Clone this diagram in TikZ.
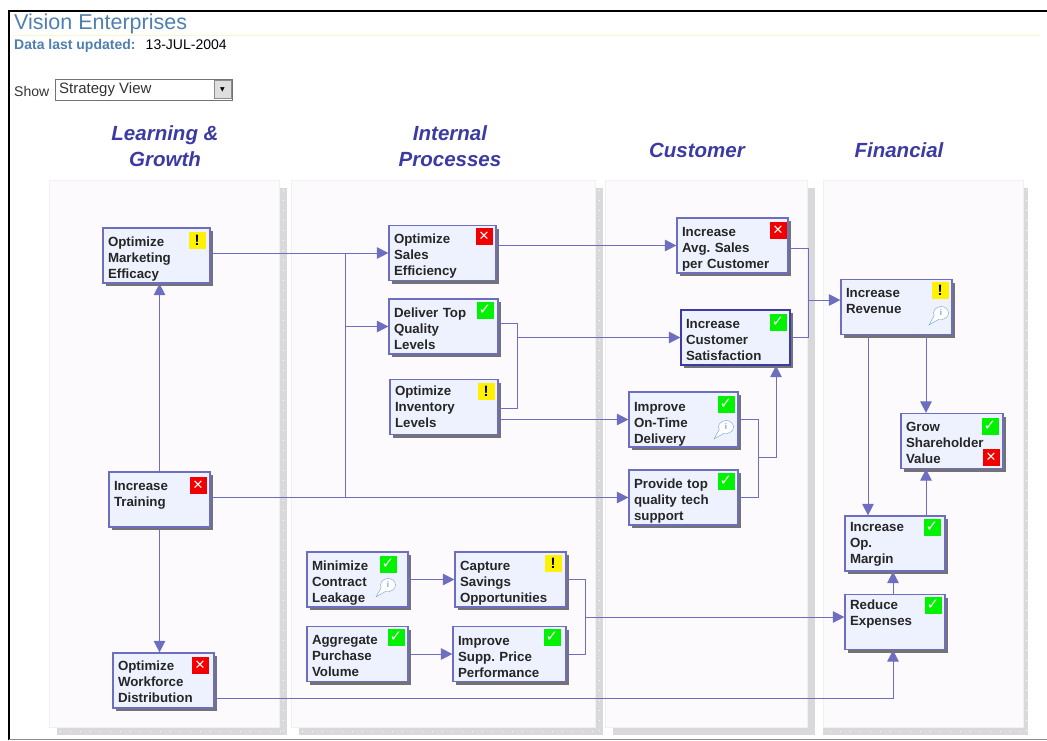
\documentclass[tikz,border=0pt]{standalone}
\usepackage{fontspec}
\setmainfont{Liberation Sans}
\newfontfamily\symfont{DejaVu Sans}
\usetikzlibrary{arrows.meta,shadows,shapes.callouts}
\definecolor{linkblue}{HTML}{6E6EC0}
\definecolor{boxfill}{HTML}{EDF2FE}
\definecolor{panelfill}{HTML}{FDFAFE}
\definecolor{stripgray}{HTML}{D9D9DB}
\definecolor{headblue}{HTML}{3B3BA3}
\definecolor{titleblue}{HTML}{4F7FAE}
\definecolor{iconblue}{HTML}{6F9FD8}
\tikzset{
  heading/.style={text=headblue, font=\fontsize{20.5}{25.5}\selectfont\bfseries\itshape, align=center},
  panel/.style={draw=black!6, fill=panelfill, anchor=north west, inner sep=0pt},
  kpibox/.style={draw=linkblue, line width=1.2pt, fill=boxfill, align=left, inner xsep=5pt, inner ysep=0pt, minimum height=55pt,
    font=\fontsize{13.3}{16}\selectfont\bfseries, text=black!85,
    general shadow={fill=black!55, shadow xshift=3pt, shadow yshift=-3pt}},
  kpidrop/.style={text height=#1pt},
  kpitop/.style={text depth=#1pt},
  stgood/.style={fill=green!95!black, text=white, minimum size=17pt, inner sep=0pt, font=\symfont\fontsize{15}{15}\selectfont},
  stbad/.style={fill=red!95!black, text=white, minimum size=17pt, inner sep=0pt, font=\symfont\fontsize{13}{13}\selectfont\bfseries},
  stwarn/.style={fill=yellow, text=black, minimum size=17pt, inner sep=0pt, font=\fontsize{15}{15}\selectfont\bfseries},
  infoicon/.style={ellipse callout, draw=iconblue, fill=white, text=iconblue, inner sep=0pt, minimum width=15pt, minimum height=13pt,
    callout relative pointer={(-7pt,-7pt)}, callout pointer arc=50, font=\fontsize{8}{8}\selectfont\bfseries},
  link/.style={draw=linkblue, line width=1pt},
  linkto/.style={link, -{Triangle[length=11.5pt,width=11.5pt]}}
}
\begin{document}
\begin{tikzpicture}[x=1pt,y=-1pt]
  \useasboundingbox (0,0) rectangle (1047,740);

  % page frame
  \draw[line width=2.5pt, black] (9,740) -- (9,11) -- (1047,11);
  \draw[line width=1pt, black!45] (9,739) -- (1047,739);
  \draw[line width=0.8pt, black!12!yellow!20!white] (14,35) -- (1040,35);

  % header
  \node[anchor=west, inner sep=0pt, text=titleblue, font=\fontsize{21.5}{22}\selectfont] (t_title) at (14,24) {Vision Enterprises};
  \node[anchor=west, inner sep=0pt, font=\fontsize{14}{14}\selectfont] (t_date) at (14,46) {\textcolor{titleblue}{\bfseries Data last updated:}\hspace{5pt} 13-JUL-2004};
  \node[anchor=west, inner sep=0pt, text=black!80, font=\fontsize{14}{14}\selectfont] (t_show) at (14,91) {Show};
  \node[draw=black!55, line width=1pt, fill=white, anchor=north west, minimum width=177pt, minimum height=21pt, inner sep=0pt] (s_view) at (55,79) {};
  \node[anchor=west, inner sep=0pt, text=black!80, font=\fontsize{15}{15}\selectfont] (s_text) at (59,89.5) {Strategy View};
  \node[draw=black!45, fill=black!13, minimum width=17pt, minimum height=18pt, inner sep=0pt, font=\symfont\fontsize{6}{6}\selectfont] (s_btn) at (222.5,89.5) {▼};

  % panels
  \node[fill=stripgray, anchor=north west, inner sep=0pt, minimum width=230pt, minimum height=547pt] (a_1) at (57,188) {};
  \node[fill=stripgray, anchor=north west, inner sep=0pt, minimum width=304pt, minimum height=547pt] (a_2) at (299,188) {};
  \node[fill=stripgray, anchor=north west, inner sep=0pt, minimum width=202pt, minimum height=547pt] (a_3) at (613,188) {};
  \node[fill=stripgray, anchor=north west, inner sep=0pt, minimum width=205pt, minimum height=547pt] (a_4) at (823,188) {};
  \foreach \x in {283,599,1026} {
    \draw[white, line width=1pt, dash pattern=on 1pt off 9pt] (\x,190) -- (\x,734);
  }
  \foreach \x/\w in {60/224,302/298,830/196} {
    \draw[white, line width=1pt, dash pattern=on 1pt off 9pt] (\x,731) -- ++(\w,0);
  }
  \node[panel, minimum width=230pt, minimum height=547pt] (p_learn) at (49,180) {};
  \node[panel, minimum width=304pt, minimum height=547pt] (p_proc) at (291,180) {};
  \node[panel, minimum width=202pt, minimum height=547pt] (p_cust) at (605,180) {};
  \node[panel, minimum width=200pt, minimum height=547pt] (p_fin) at (823,180) {};

  \node[heading] (h_learn) at (165,146) {Learning \&\\Growth};
  \node[heading] (h_proc) at (450,146) {Internal\\Processes};
  \node[heading] (h_cust) at (697,150) {Customer};
  \node[heading] (h_fin) at (899,150) {Financial};

  % objectives
  \node[kpibox, kpidrop=17, text width=97pt] (k_mkt) at (156.5,255.5) {Optimize\\Marketing\\Efficacy};
  \node[kpibox, kpitop=28, text width=91pt] (k_train) at (159.5,499.5) {Increase\\Training};
  \node[kpibox, kpidrop=12, text width=91pt] (k_work) at (163.5,680.5) {Optimize\\Workforce\\Distribution};
  \node[kpibox, kpidrop=15, text width=97pt] (k_sales) at (442.5,253) {Optimize\\Sales\\Efficiency};
  \node[kpibox, kpidrop=14, text width=99pt] (k_qual) at (443.5,326.5) {Deliver Top\\Quality\\Levels};
  \node[kpibox, text width=98pt] (k_inv) at (444,407) {Optimize\\Inventory\\Levels};
  \node[kpibox, kpidrop=16, text width=91pt] (k_leak) at (357.5,579.5) {Minimize\\Contract\\Leakage};
  \node[kpibox, kpidrop=13, text width=91pt] (k_agg) at (357.5,654) {Aggregate\\Purchase\\Volume};
  \node[kpibox, kpidrop=16, text width=101pt] (k_save) at (510.5,579.5) {Capture\\Savings\\Opportunities};
  \node[kpibox, kpidrop=15, text width=103pt] (k_price) at (509.5,654) {Improve\\Supp.\ Price\\Performance};
  \node[kpibox, kpidrop=17, text width=101pt] (k_avg) at (732.5,245.5) {Increase\\Avg.\ Sales\\per Customer};
  \node[kpibox, kpidrop=15, text width=99pt, draw=headblue] (k_sat) at (735.5,337.5) {Increase\\Customer\\Satisfaction};
  \node[kpibox, kpidrop=18, text width=99pt] (k_time) at (683.5,419.5) {Improve\\On-Time\\Delivery};
  \node[kpibox, kpidrop=17, text width=99pt] (k_tech) at (683.5,497.5) {Provide top\\quality tech\\support};
  \node[kpibox, kpitop=28, text width=101pt] (k_rev) at (896.5,307) {Increase\\Revenue};
  \node[kpibox, kpidrop=13, text width=92pt] (k_grow) at (952,441) {Grow\\Shareholder\\Value};
  \node[kpibox, kpidrop=11, text width=90pt] (k_marg) at (895,543.5) {Increase\\Op.\\Margin};
  \node[kpibox, kpitop=34, text width=90pt] (k_exp) at (895,622) {Reduce\\Expenses};

  % status icons
  \node[stwarn] (i_mkt) at (197,240) {!};
  \node[stbad] (i_train) at (198,485) {✕};
  \node[stbad] (i_work) at (200,665) {✕};
  \node[stbad] (i_sales) at (484,236) {✕};
  \node[stgood] (i_qual) at (485,310) {✓};
  \node[stwarn] (i_inv) at (486,391) {!};
  \node[stgood] (i_leak) at (388,564) {✓};
  \node[infoicon] (n_leak) at (388,585) {i};
  \node[stgood] (i_agg) at (396,637) {✓};
  \node[stwarn] (i_save) at (553,563) {!};
  \node[stgood] (i_price) at (552,637) {✓};
  \node[stbad] (i_avg) at (778,230) {✕};
  \node[stgood] (i_sat) at (778,322) {✓};
  \node[stgood] (i_time) at (726,404) {✓};
  \node[infoicon] (n_time) at (726,427) {i};
  \node[stgood] (i_tech) at (726,481) {✓};
  \node[stwarn] (i_rev) at (940,290) {!};
  \node[infoicon] (n_rev) at (941,313) {i};
  \node[stgood] (i_grow) at (990,426) {✓};
  \node[stbad] (i_grow2) at (991,457) {✕};
  \node[stgood] (i_marg) at (932,527) {✓};
  \node[stgood] (i_exp) at (933,605) {✓};

  % bends of the links
  \coordinate (c_bus) at (345,326.5);
  \coordinate (c_qual) at (517,337.5);
  \coordinate (c_qual_a) at (517,323);
  \coordinate (c_qual_b) at (517,408);
  \coordinate (c_time) at (758,457);
  \coordinate (c_sat) at (776,457);
  \coordinate (c_avg) at (808,248);
  \coordinate (c_rev) at (808,300);
  \coordinate (c_save) at (585,617);
  \coordinate (c_marg) at (868,400);
  \coordinate (c_grow) at (926,400);
  \coordinate (c_exp) at (893,698);

  % links
  \draw[linkto] (k_mkt.east |- k_sales.west) -- (k_sales.west);
  \draw[link] (c_bus |- k_sales.west) -- (c_bus |- k_tech.west);
  \draw[linkto] (c_bus) -- (c_bus -| k_qual.west);
  \draw[linkto] (k_train.east |- k_tech.west) -- (k_tech.west);
  \draw[linkto] (k_train.north) -- (k_train.north |- k_mkt.south);
  \draw[linkto] (k_train.south) -- (k_train.south |- k_work.north);
  \draw[linkto] (k_sales.east |- k_avg.west) -- (k_avg.west);
  \draw[link] (k_qual.east |- c_qual_a) -- (c_qual_a) -- (c_qual_b) -- (k_inv.east |- c_qual_b);
  \draw[linkto] (c_qual) -- (c_qual -| k_sat.west);
  \draw[linkto] (k_inv.east |- k_time.west) -- (k_time.west);
  \draw[link] (k_time.east) -| (c_time |- k_tech.east) -- (k_tech.east);
  \draw[linkto] (c_time) -- (c_sat) -- (c_sat |- k_sat.south);
  \draw[link] (k_avg.east |- c_avg) -- (c_avg) |- (k_sat.east);
  \draw[linkto] (c_rev) -- (c_rev -| k_rev.west);
  \draw[linkto] (c_grow |- k_rev.south) -- (c_grow |- k_grow.north);
  \draw[linkto] (c_marg |- k_rev.south) -- (c_marg |- k_marg.north);
  \draw[linkto] (c_grow |- k_marg.north) -- (c_grow |- k_grow.south);
  \draw[linkto] (c_exp |- k_exp.north) -- (c_exp |- k_marg.south);
  \draw[linkto] (k_leak.east) -- (k_leak.east -| k_save.west);
  \draw[linkto] (k_agg.east) -- (k_agg.east -| k_price.west);
  \draw[link] (k_save.east) -| (c_save |- k_price.east) -- (k_price.east);
  \draw[linkto] (c_save) -- (c_save -| k_exp.west);
  \draw[linkto] (k_work.east |- c_exp) -- (c_exp) -- (c_exp |- k_exp.south);
\end{tikzpicture}
\end{document}
